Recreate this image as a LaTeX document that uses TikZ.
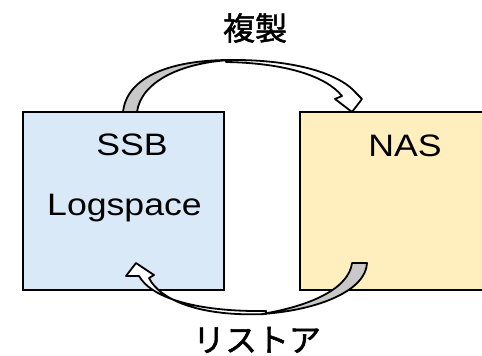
\documentclass[tikz,border=0pt]{standalone}
\usepackage{fontspec}
\newfontfamily\cjk[FakeBold=1.5]{Noto Sans CJK JP}
\newfontfamily\lat[FakeStretch=1.15]{Liberation Sans}
\definecolor{ssbfill}{RGB}{218,233,247}
\definecolor{nasfill}{RGB}{255,239,190}
\definecolor{backgray}{RGB}{200,200,200}
\tikzset{
  box/.style={draw=black, line width=1.8pt, inner sep=0pt},
  lbl/.style={inner sep=0pt, anchor=base, font=\lat\fontsize{31}{31}\selectfont},
  jlbl/.style={inner sep=0pt, font=\cjk\fontsize{32}{32}\selectfont},
  arrowfront/.style={draw=black, fill=white, line width=1.8pt, line join=round},
  arrowback/.style={draw=black, fill=backgray, line width=1.8pt, line join=round}
}
\begin{document}
\begin{tikzpicture}[x=1pt,y=-1pt]
\useasboundingbox (0,0) rectangle (482,356);
\clip (0,0) rectangle (482,356);
\node[box, fill=ssbfill, minimum width=201pt, minimum height=178pt] (ssb) at (123.5,201) {};
\node[box, fill=nasfill, minimum width=200pt, minimum height=178pt] (nas) at (400,201) {};
\node[lbl] (ssbt) at (132,155) {SSB};
\node[lbl] (logt) at (124.5,215) {Logspace};
\node[lbl] (nast) at (405,156.5) {NAS};
\node[jlbl] (copyt) at (255,28) {複製};
\node[jlbl] (restt) at (257,340) {リストア};
% top arrow (copy): SSB -> NAS
\path[arrowfront] (226,60) .. controls (290,59) and (338,72) .. (356,93) -- (362,99) -- (352,112) -- (335,99) -- (342,96) .. controls (326,76) and (285,63) .. (226,62) -- cycle;
\path[arrowback] (123,112) .. controls (127,76) and (172,60) .. (230,60) .. controls (180,63) and (141,82) .. (137,112) -- cycle;
% bottom arrow (restore): NAS -> SSB
\path[arrowfront] (266,314) .. controls (200,317) and (160,300) .. (149,278) -- (154,275) -- (136,263) -- (126,276) -- (139,276) .. controls (152,299) and (200,312) .. (266,311) -- cycle;
\path[arrowback] (352,263) -- (367,263) .. controls (366,290) and (320,310) .. (262,314) .. controls (315,305) and (349,287) .. (352,263) -- cycle;
\end{tikzpicture}
\end{document}
